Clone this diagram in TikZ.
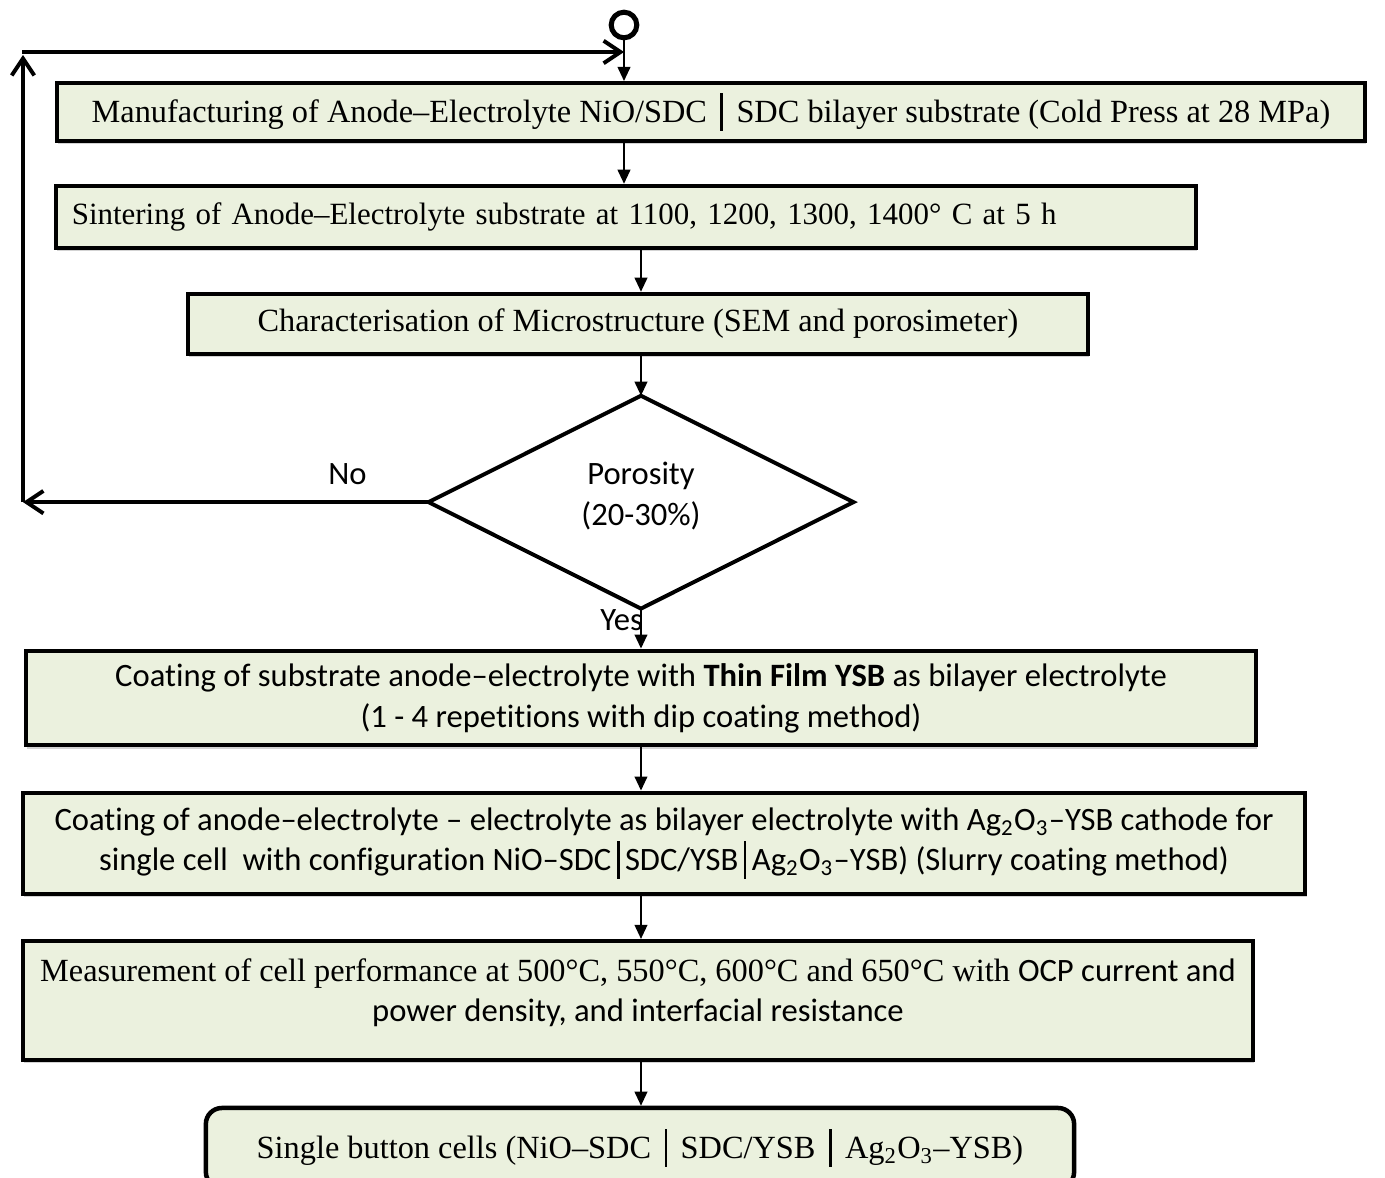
\documentclass[tikz,border=0pt]{standalone}
\usepackage{fontspec}
\setmainfont{Liberation Serif}
\newfontfamily\gill[Ligatures=NoCommon]{Carlito}
\usetikzlibrary{positioning,shapes.geometric,shadows,arrows.meta}
\definecolor{boxfill}{HTML}{EBF1DE}
\tikzset{>=Latex}
\def\cbar{\,\rule[-0.25em]{0.08em}{1.15em}\,}
\tikzset{
  stage/.style={draw,line width=1.4pt,fill=boxfill,inner sep=0pt,align=center,
    drop shadow={shadow xshift=0.4pt,shadow yshift=-1.2pt,opacity=0.35}},
  sans/.style={font=\gill\fontsize{11.6}{14.5}\selectfont},
  decision/.style={diamond,draw,line width=1.4pt,inner sep=0pt,outer sep=0pt,align=center},
  flow/.style={->,line width=0.7pt,>={Triangle[length=5pt,width=4.5pt]}},
  loopback/.style={->,line width=1.4pt,>={Straight Barb[length=6pt,width=8pt]}},
}

\begin{document}
\begin{tikzpicture}[x=0.0125cm,y=-0.0125cm,node distance=0.54cm,
  font=\fontsize{11.5}{14.5}\selectfont]
\useasboundingbox (0,0) rectangle (1385,1177);
\clip (0,0) rectangle (1385,1177);

\node[circle,draw,line width=1.8pt,minimum size=0.32cm,inner sep=0pt] (start) at (624,25) {};
\node[stage,minimum width=16.34cm,minimum height=0.725cm] (press) at (711,112)
  {Manufacturing of Anode–Electrolyte NiO/SDC \cbar{} SDC bilayer substrate (Cold Press at 28 MPa)};
\node[stage,minimum height=0.775cm,text width=13.85cm,inner xsep=0.2cm,align=left,
  font=\fontsize{11}{14}\selectfont,below=0.51cm of press,xshift=-1.0625cm] (sinter)
  {Sintering of Anode–Electrolyte substrate at 1100, 1200, 1300, 1400° C at 5 h};
\node[stage,minimum width=11.24cm,minimum height=0.75cm,below=0.525cm of sinter,xshift=0.15cm] (check)
  {Characterisation of Microstructure (SEM and porosimeter)};
\node[decision,sans,minimum width=5.31cm,minimum height=2.66cm,below=0.5cm of check,xshift=0.0375cm] (porous)
  {Porosity\\(20-30\%)\\[-0.6\baselineskip]\mbox{}};
\node[stage,sans,minimum width=15.38cm,minimum height=1.185cm,below=0.5cm of porous] (thin)
  {Coating of substrate anode–electrolyte with \textbf{Thin Film YSB} as bilayer electrolyte\\
   (1 - 4 repetitions with dip coating method)};
\node[stage,sans,minimum width=16.03cm,minimum height=1.265cm,below=of thin,xshift=0.2875cm] (cathode)
  {Coating of anode–electrolyte – electrolyte as bilayer electrolyte with Ag\textsubscript{2}O\textsubscript{3}–YSB cathode for\\
   single cell \ with configuration NiO–SDC\cbar SDC/YSB\cbar Ag\textsubscript{2}O\textsubscript{3}–YSB) (Slurry coating method)};
\node[stage,minimum width=15.38cm,minimum height=1.485cm,below=of cathode,xshift=-0.325cm] (test)
  {Measurement of cell performance at 500°C, 550°C, 600°C and 650°C with {\gill\fontsize{11.6}{14.5}\selectfont OCP current and}\\
   {\gill\fontsize{11.6}{14.5}\selectfont power density, and interfacial resistance}\\[-0.5\baselineskip]\mbox{}};
\node[draw,line width=1.6pt,fill=boxfill,rounded corners=0.2cm,minimum width=10.85cm,
  minimum height=1cm,below=0.55cm of test,xshift=0.025cm] (cell)
  {Single button cells (NiO–SDC \cbar{} SDC/YSB \cbar{} Ag\textsubscript{2}O\textsubscript{3}–YSB)};

% main line
\draw[flow] (start) -- (start |- press.north);
\draw[flow] (press.south -| start) -- (start |- sinter.north);
\draw[flow] (sinter.south -| porous.north) -- (check.north -| porous.north);
\draw[flow] (check.south -| porous.north) -- (porous.north);
\draw[flow] (porous.south) -- node[left,inner sep=0pt,xshift=1pt,yshift=3pt,sans] {Yes} (thin.north -| porous.south);
\draw[flow] (thin) -- (thin |- cathode.north);
\draw[flow] (cathode.south -| thin) -- (thin |- test.north);
\draw[flow] (test.south -| thin) -- (thin |- cell.north);

% back to the start
\coordinate (up) at (23,55);
\coordinate (low) at (up |- porous.west);
\coordinate (top) at (22,52);
\draw[loopback] (porous.west) -- node[pos=0.2,above=2pt,sans] {No} (low);
\draw[loopback] (low) -- (up);
\draw[loopback] (top) -- (top -| start);
\end{tikzpicture}
\end{document}
